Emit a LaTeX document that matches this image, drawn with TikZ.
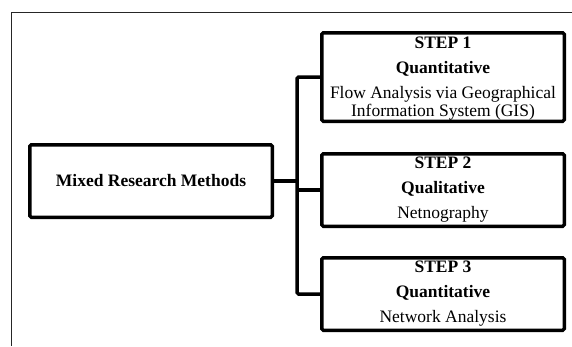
\documentclass[tikz,border=0pt]{standalone}
\usepackage{fontspec}
\setmainfont{Liberation Serif}
\tikzset{
    frame/.style={line width=1pt,black!85},
    box/.style={draw,line width=3.5pt,rounded corners=1.5pt,align=center,inner sep=0pt,minimum width=242.5pt,font=\fontsize{17.5}{25}\selectfont},
    stepbox/.style={box,minimum height=#1},
    link/.style={line width=3.5pt,rounded corners=1.5pt}
}
\def\trunkx{297}

\begin{document}
\begin{tikzpicture}[x=1pt,y=-1pt]
  \useasboundingbox (0,0) rectangle (572,346);
  % Frame
  \draw[frame] (572,12) coordinate (fr) -- (11,12) coordinate (fc) -- (11,346) coordinate (fb);

  % Boxes
  \node[stepbox=72.5pt] (mixed) at (151,181) {\textbf{Mixed Research Methods}};
  \node[stepbox=88.5pt] (step1) at (443,77) {\rule{0pt}{15.5pt}\textbf{STEP 1}\\\textbf{Quantitative}\\Flow Analysis via Geographical\\[-7pt]Information System (GIS)};
  \node[stepbox=72.5pt] (step2) at (443,190) {\textbf{STEP 2}\\\textbf{Qualitative}\\Netnography};
  \node[stepbox=72.5pt] (step3) at (443,294) {\textbf{STEP 3}\\\textbf{Quantitative}\\Network Analysis};

  % Connectors
  \coordinate (trunk) at (\trunkx,0);
  \draw[link] (step1.west) -- (step1.west -| trunk) -- (step3.west -| trunk) -- (step3.west);
  \draw[link] (mixed.east) -- (mixed.east -| trunk);
  \draw[link] (step2.west) -- (step2.west -| trunk);
\end{tikzpicture}
\end{document}
